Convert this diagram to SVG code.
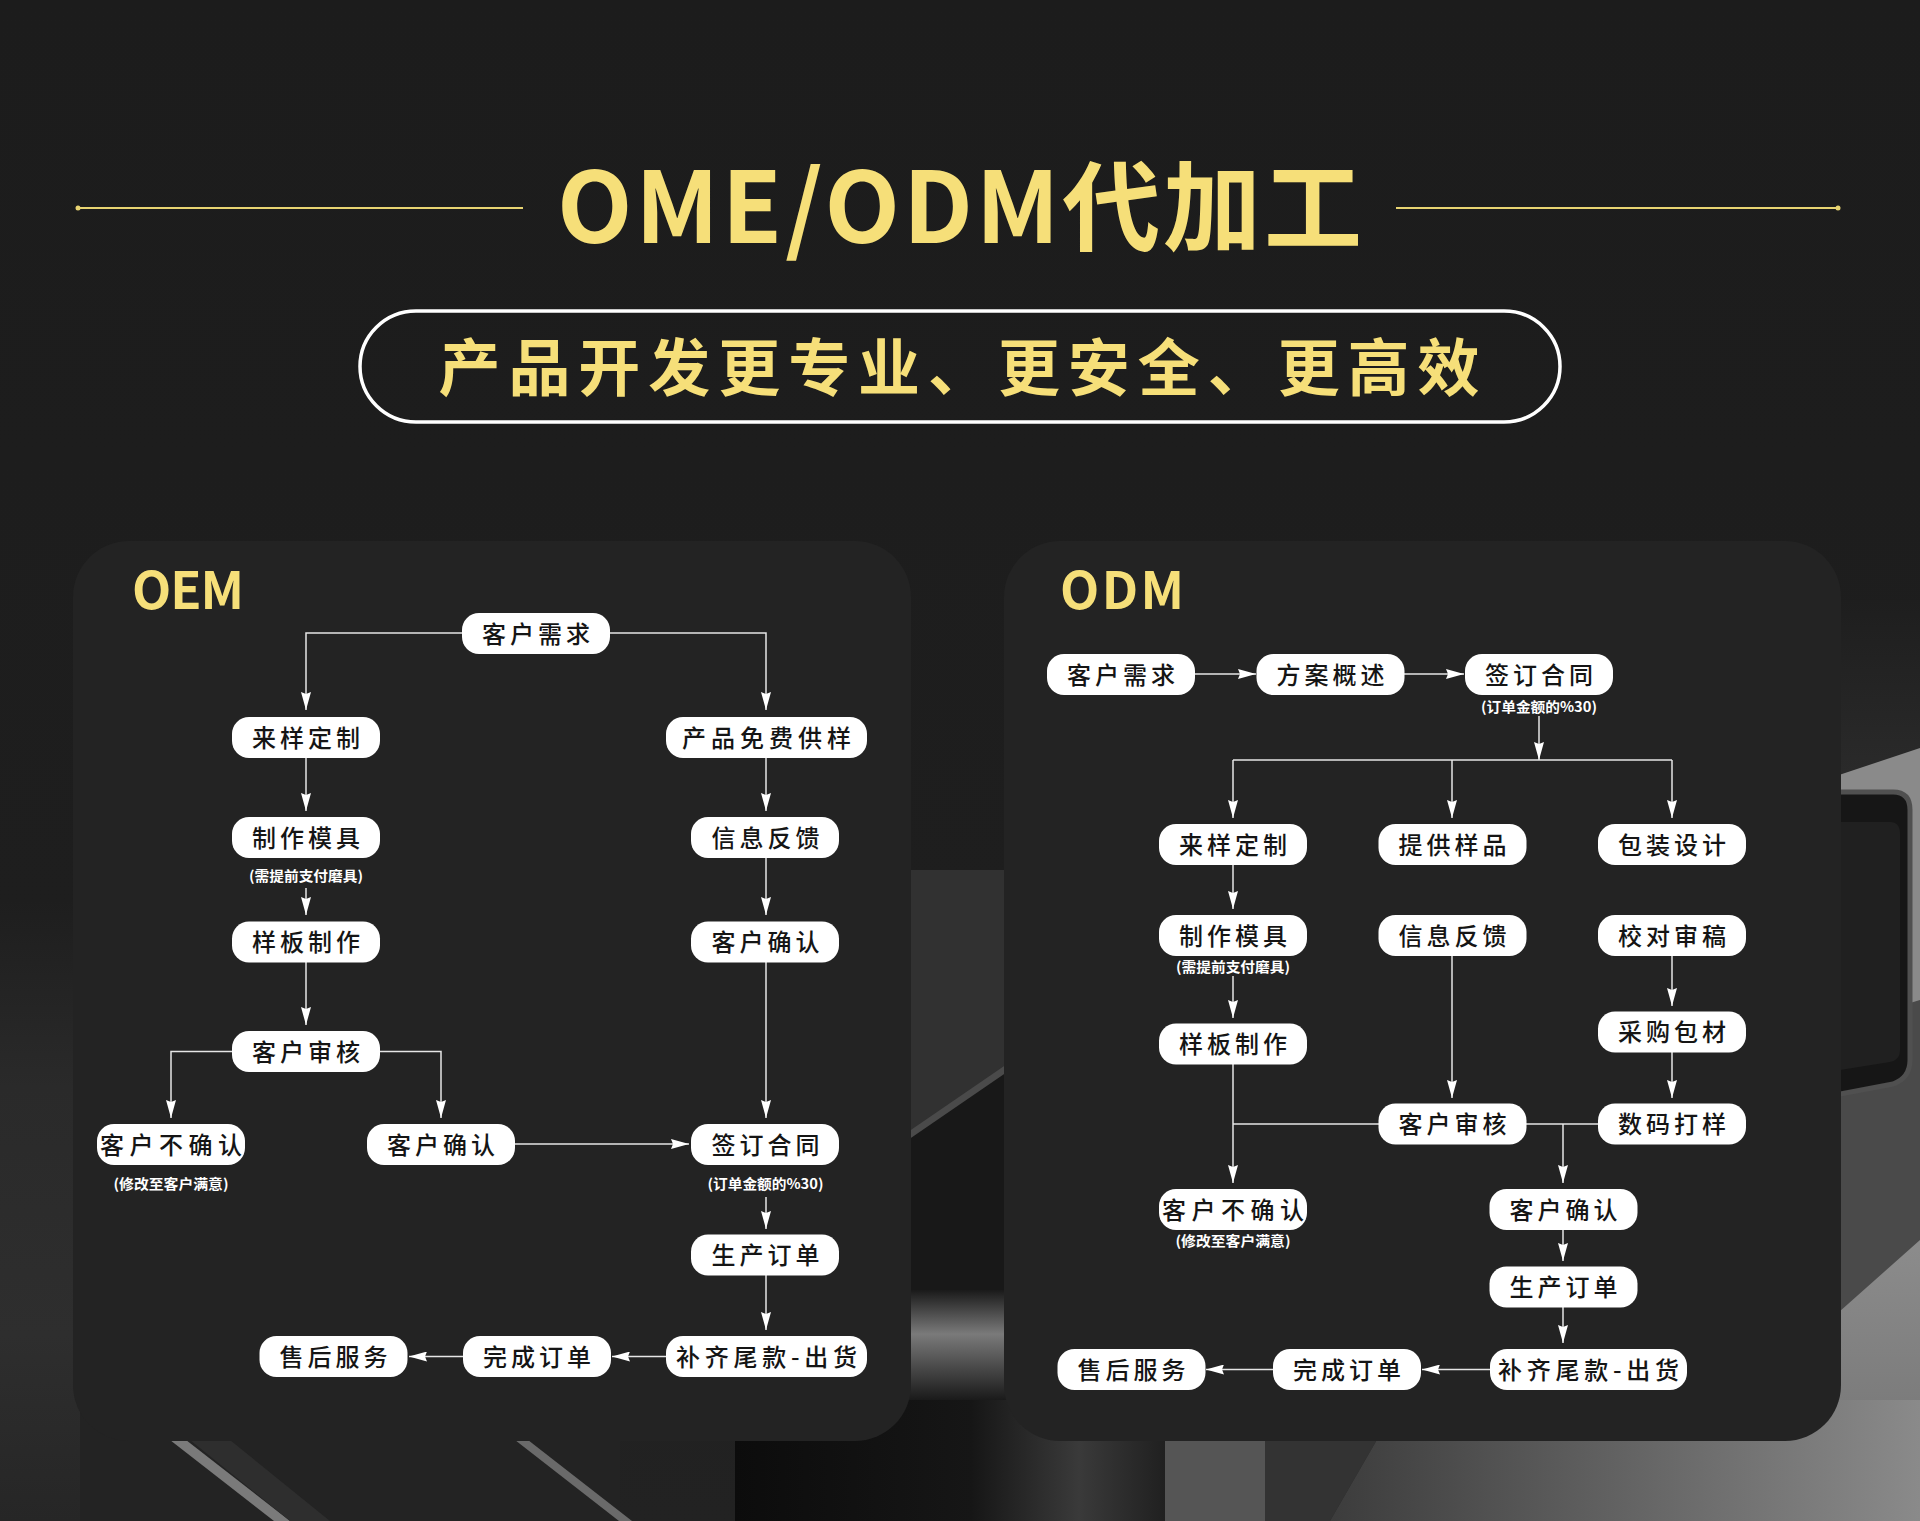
<svg xmlns="http://www.w3.org/2000/svg" width="1920" height="1521" viewBox="0 0 1920 1521">
<defs>
<style>
.cn{font-family:"Noto Sans CJK SC","Noto Sans",sans-serif}
.node rect{fill:#ffffff}
.node text{font-family:"Noto Sans CJK SC","Noto Sans",sans-serif;font-size:24px;font-weight:500;fill:#151515;text-anchor:middle;dominant-baseline:central}
.node text.note{font-size:14px;font-weight:700;fill:#ffffff}
.conn path{fill:none;stroke:#e6e6e6;stroke-width:1.5;marker-end:url(#arr)}
.conn path.plain{marker-end:none}
.gold{fill:#f6df79}
.panel{fill:#232323}
</style>
<marker id="arr" viewBox="0 0 18 10" refX="18" refY="5" markerWidth="18" markerHeight="10" markerUnits="userSpaceOnUse" orient="auto">
<path d="M0,0 L18,5 L0,10 L2,5 z" fill="#ffffff"/>
</marker>
<linearGradient id="bg" x1="0" y1="0" x2="0" y2="1">
<stop offset="0" stop-color="#1c1c1c"/>
<stop offset="0.6" stop-color="#1e1e1e"/>
<stop offset="1" stop-color="#222222"/>
</linearGradient>
<linearGradient id="leftEdge" x1="0" y1="0" x2="0" y2="1">
<stop offset="0" stop-color="#1e1e1e"/>
<stop offset="0.3" stop-color="#2a2a2a"/>
<stop offset="0.7" stop-color="#2e2e2e"/>
<stop offset="1" stop-color="#262626"/>
</linearGradient>
<linearGradient id="rightTop" x1="0" y1="0" x2="0" y2="1">
<stop offset="0" stop-color="#1e1e1e"/>
<stop offset="1" stop-color="#2c2c2c"/>
</linearGradient>
<linearGradient id="rightSurf" x1="0" y1="0" x2="0" y2="1">
<stop offset="0" stop-color="#8c8c8c"/>
<stop offset="1" stop-color="#707070"/>
</linearGradient>
<linearGradient id="midBand" x1="0" y1="0" x2="0" y2="1">
<stop offset="0" stop-color="#1a1a1a"/>
<stop offset="0.4" stop-color="#7a7a7a"/>
<stop offset="0.6" stop-color="#5a5a5a"/>
<stop offset="1" stop-color="#1a1a1a"/>
</linearGradient>
<linearGradient id="botGrey" x1="0" y1="0" x2="1" y2="0">
<stop offset="0" stop-color="#3c3c3c"/>
<stop offset="1" stop-color="#8a8a8a"/>
</linearGradient>
<linearGradient id="blackBlock" x1="0" y1="0" x2="1" y2="0">
<stop offset="0" stop-color="#0c0c0c"/>
<stop offset="0.55" stop-color="#161616"/>
<stop offset="0.8" stop-color="#3a3a3a"/>
<stop offset="1" stop-color="#202020"/>
</linearGradient>
</defs>

<!-- background -->
<rect x="0" y="0" width="1920" height="1521" fill="url(#bg)"/>
<g id="background-scene">
<rect x="0" y="900" width="80" height="621" fill="url(#leftEdge)"/>
<!-- right side surface and box -->
<rect x="1830" y="600" width="90" height="200" fill="url(#rightTop)"/>
<polygon points="1830,800 1920,772 1920,1521 1830,1521" fill="#4a4a4a"/>
<polygon points="1830,1320 1920,1240 1920,1521 1830,1521" fill="url(#rightSurf)"/>
<polygon points="1830,778 1920,748 1920,1000 1880,1012 1880,790 1830,806" fill="#8a8a8a"/>
<path d="M1830,792 H1893 Q1910,792 1910,810 V1060 Q1910,1078 1893,1084 L1830,1096 Z" fill="#161616" stroke="#505050" stroke-width="5"/>
<path d="M1840,822 H1890 Q1900,822 1900,834 V1050 Q1900,1060 1890,1062 L1840,1070 Z" fill="#202020"/>
<!-- between panels -->
<rect x="905" y="870" width="105" height="270" fill="#313131"/>
<polygon points="905,1138 1010,1064 1010,1521 905,1521" fill="#181818"/>
<polygon points="905,1134 1010,1062 1010,1070 905,1142" fill="#4a4a4a"/>
<rect x="905" y="1290" width="105" height="110" fill="url(#midBand)"/>
<!-- bottom strip -->
<rect x="80" y="1400" width="540" height="121" fill="#232323"/>
<polygon points="170,1440 186,1440 290,1521 274,1521" fill="#7a7a7a"/>
<polygon points="190,1440 230,1440 330,1521 290,1521" fill="#2e2e2e"/>
<polygon points="515,1440 528,1440 632,1521 619,1521" fill="#6a6a6a"/>
<rect x="735" y="1400" width="430" height="121" fill="url(#blackBlock)"/>
<rect x="1165" y="1400" width="100" height="121" fill="#555555"/>
<polygon points="1265,1400 1400,1400 1330,1521 1265,1521" fill="#333333"/>
<polygon points="1400,1400 1920,1400 1920,1521 1330,1521" fill="url(#botGrey)"/>
</g>

<!-- header -->
<g id="header">
<line x1="78" y1="208" x2="523" y2="208" stroke="#e8d472" stroke-width="2"/>
<circle cx="78" cy="208" r="2.5" fill="#e8d472"/>
<line x1="1396" y1="208" x2="1838" y2="208" stroke="#e8d472" stroke-width="2"/>
<circle cx="1838" cy="208" r="2.5" fill="#e8d472"/>
<text class="cn gold" x="959.5" y="243" font-size="98" font-weight="700" text-anchor="middle" textLength="805" lengthAdjust="spacing">OME/ODM代加工</text>
<rect x="360" y="311" width="1200" height="111" rx="56" ry="56" fill="none" stroke="#ffffff" stroke-width="3.5"/>
<text class="cn gold" x="959" y="364" font-size="62" font-weight="700" text-anchor="middle" dominant-baseline="central" textLength="1041" lengthAdjust="spacing">产品开发更专业、更安全、更高效</text>
</g>

<!-- panels -->
<g id="oem-panel">
<rect class="panel" x="73" y="541" width="838" height="900" rx="56"/>
<text class="cn gold" x="132" y="609" font-size="51" font-weight="700" textLength="112" lengthAdjust="spacing">OEM</text>
</g>
<g id="odm-panel">
<rect class="panel" x="1004" y="541" width="837" height="900" rx="56"/>
<text class="cn gold" x="1060" y="609" font-size="51" font-weight="700" textLength="124" lengthAdjust="spacing">ODM</text>
</g>

<!-- connectors -->
<g id="connectors" class="conn">
<!-- OEM -->
<path d="M462,633 H306 V710"/>
<path d="M609,633 H766 V710"/>
<path d="M306,758 V811"/>
<path d="M306,888 V915"/>
<path d="M306,962 V1025"/>
<path d="M232,1051.5 H171 V1118"/>
<path d="M380,1051.5 H441 V1118"/>
<path d="M514,1144 H689"/>
<path d="M766,758 V811"/>
<path d="M766,858 V915"/>
<path d="M766,962 V1118"/>
<path d="M766,1197 V1229"/>
<path d="M766,1275 V1330"/>
<path d="M666,1356.5 H612"/>
<path d="M463,1356.5 H409"/>
<!-- ODM -->
<path d="M1195,674 H1256"/>
<path d="M1404,674 H1464"/>
<path d="M1539,716 V760"/>
<path class="plain" d="M1233,760 H1672"/>
<path d="M1233,760 V818"/>
<path d="M1452,760 V818"/>
<path d="M1672,760 V818"/>
<path d="M1233,865 V909"/>
<path d="M1233,976 V1018"/>
<path d="M1233,1064 V1183"/>
<path class="plain" d="M1233,1124 H1379"/>
<path d="M1452,956 V1098"/>
<path d="M1672,956 V1006"/>
<path d="M1672,1052 V1098"/>
<path class="plain" d="M1526,1124 H1599"/>
<path d="M1563,1124 V1183"/>
<path d="M1563,1230 V1261"/>
<path d="M1563,1307 V1343"/>
<path d="M1490,1369.5 H1422"/>
<path d="M1273,1369.5 H1206"/>
</g>

<!-- OEM nodes -->
<g id="oem-1" class="node"><rect x="462" y="613" width="148" height="41" rx="17"/><text x="536" y="632" textLength="108" lengthAdjust="spacing">客户需求</text></g>
<g id="oem-2" class="node"><rect x="232" y="717" width="148" height="41" rx="17"/><text x="306" y="736" textLength="108" lengthAdjust="spacing">来样定制</text></g>
<g id="oem-3" class="node"><rect x="666" y="717" width="201" height="41" rx="17"/><text x="766.5" y="736" textLength="169" lengthAdjust="spacing">产品免费供样</text></g>
<g id="oem-4" class="node"><rect x="232" y="817" width="148" height="41" rx="17"/><text x="306" y="836" textLength="108" lengthAdjust="spacing">制作模具</text><text class="note" x="306" y="875" textLength="114" lengthAdjust="spacingAndGlyphs">(需提前支付磨具)</text></g>
<g id="oem-5" class="node"><rect x="691" y="817" width="148" height="41" rx="17"/><text x="765.5" y="836" textLength="108" lengthAdjust="spacing">信息反馈</text></g>
<g id="oem-6" class="node"><rect x="232" y="921.5" width="148" height="41" rx="17"/><text x="306" y="940.5" textLength="108" lengthAdjust="spacing">样板制作</text></g>
<g id="oem-7" class="node"><rect x="691" y="921.5" width="148" height="41" rx="17"/><text x="765.5" y="940.5" textLength="108" lengthAdjust="spacing">客户确认</text></g>
<g id="oem-8" class="node"><rect x="232" y="1031" width="148" height="41" rx="17"/><text x="306" y="1050" textLength="108" lengthAdjust="spacing">客户审核</text></g>
<g id="oem-9" class="node"><rect x="97" y="1124" width="148" height="41" rx="17"/><text x="171" y="1143" textLength="142" lengthAdjust="spacing">客户不确认</text><text class="note" x="171" y="1183" textLength="115" lengthAdjust="spacingAndGlyphs">(修改至客户满意)</text></g>
<g id="oem-10" class="node"><rect x="367" y="1124" width="148" height="41" rx="17"/><text x="441" y="1143" textLength="108" lengthAdjust="spacing">客户确认</text></g>
<g id="oem-11" class="node"><rect x="691" y="1124" width="148" height="41" rx="17"/><text x="765.5" y="1143" textLength="108" lengthAdjust="spacing">签订合同</text><text class="note" x="765.5" y="1183" textLength="116" lengthAdjust="spacingAndGlyphs">(订单金额的%30)</text></g>
<g id="oem-12" class="node"><rect x="691" y="1234.5" width="148" height="41" rx="17"/><text x="765.5" y="1253.5" textLength="108" lengthAdjust="spacing">生产订单</text></g>
<g id="oem-13" class="node"><rect x="666" y="1336" width="201" height="41" rx="17"/><text x="766.5" y="1355" textLength="181" lengthAdjust="spacing">补齐尾款-出货</text></g>
<g id="oem-14" class="node"><rect x="463" y="1336" width="148" height="41" rx="17"/><text x="537" y="1355" textLength="108" lengthAdjust="spacing">完成订单</text></g>
<g id="oem-15" class="node"><rect x="259.5" y="1336" width="148" height="41" rx="17"/><text x="333.5" y="1355" textLength="108" lengthAdjust="spacing">售后服务</text></g>

<!-- ODM nodes -->
<g id="odm-1" class="node"><rect x="1047" y="654" width="148" height="41" rx="17"/><text x="1121" y="673" textLength="108" lengthAdjust="spacing">客户需求</text></g>
<g id="odm-2" class="node"><rect x="1256.5" y="654" width="148" height="41" rx="17"/><text x="1330.5" y="673" textLength="108" lengthAdjust="spacing">方案概述</text></g>
<g id="odm-3" class="node"><rect x="1465" y="654" width="148" height="41" rx="17"/><text x="1539" y="673" textLength="108" lengthAdjust="spacing">签订合同</text><text class="note" x="1539" y="706" textLength="116" lengthAdjust="spacingAndGlyphs">(订单金额的%30)</text></g>
<g id="odm-4" class="node"><rect x="1159" y="824" width="148" height="41" rx="17"/><text x="1233" y="843" textLength="108" lengthAdjust="spacing">来样定制</text></g>
<g id="odm-5" class="node"><rect x="1378.5" y="824" width="148" height="41" rx="17"/><text x="1452.5" y="843" textLength="108" lengthAdjust="spacing">提供样品</text></g>
<g id="odm-6" class="node"><rect x="1598" y="824" width="148" height="41" rx="17"/><text x="1672" y="843" textLength="108" lengthAdjust="spacing">包装设计</text></g>
<g id="odm-7" class="node"><rect x="1159" y="915" width="148" height="41" rx="17"/><text x="1233" y="934" textLength="108" lengthAdjust="spacing">制作模具</text><text class="note" x="1233" y="966" textLength="114" lengthAdjust="spacingAndGlyphs">(需提前支付磨具)</text></g>
<g id="odm-8" class="node"><rect x="1378.5" y="915" width="148" height="41" rx="17"/><text x="1452.5" y="934" textLength="108" lengthAdjust="spacing">信息反馈</text></g>
<g id="odm-9" class="node"><rect x="1598" y="915" width="148" height="41" rx="17"/><text x="1672" y="934" textLength="108" lengthAdjust="spacing">校对审稿</text></g>
<g id="odm-10" class="node"><rect x="1159" y="1023.5" width="148" height="41" rx="17"/><text x="1233" y="1042.5" textLength="108" lengthAdjust="spacing">样板制作</text></g>
<g id="odm-11" class="node"><rect x="1598" y="1011.5" width="148" height="41" rx="17"/><text x="1672" y="1030.5" textLength="108" lengthAdjust="spacing">采购包材</text></g>
<g id="odm-12" class="node"><rect x="1378.5" y="1103.5" width="148" height="41" rx="17"/><text x="1452.5" y="1122.5" textLength="108" lengthAdjust="spacing">客户审核</text></g>
<g id="odm-13" class="node"><rect x="1598" y="1103.5" width="148" height="41" rx="17"/><text x="1672" y="1122.5" textLength="108" lengthAdjust="spacing">数码打样</text></g>
<g id="odm-14" class="node"><rect x="1159" y="1189" width="148" height="41" rx="17"/><text x="1233" y="1208" textLength="142" lengthAdjust="spacing">客户不确认</text><text class="note" x="1233" y="1240" textLength="115" lengthAdjust="spacingAndGlyphs">(修改至客户满意)</text></g>
<g id="odm-15" class="node"><rect x="1489.5" y="1189" width="148" height="41" rx="17"/><text x="1563.5" y="1208" textLength="108" lengthAdjust="spacing">客户确认</text></g>
<g id="odm-16" class="node"><rect x="1489.5" y="1266.5" width="148" height="41" rx="17"/><text x="1563.5" y="1285.5" textLength="108" lengthAdjust="spacing">生产订单</text></g>
<g id="odm-17" class="node"><rect x="1490" y="1349" width="197" height="41" rx="17"/><text x="1588.5" y="1368" textLength="181" lengthAdjust="spacing">补齐尾款-出货</text></g>
<g id="odm-18" class="node"><rect x="1273" y="1349" width="148" height="41" rx="17"/><text x="1347" y="1368" textLength="108" lengthAdjust="spacing">完成订单</text></g>
<g id="odm-19" class="node"><rect x="1057.5" y="1349" width="148" height="41" rx="17"/><text x="1131.5" y="1368" textLength="108" lengthAdjust="spacing">售后服务</text></g>
</svg>
